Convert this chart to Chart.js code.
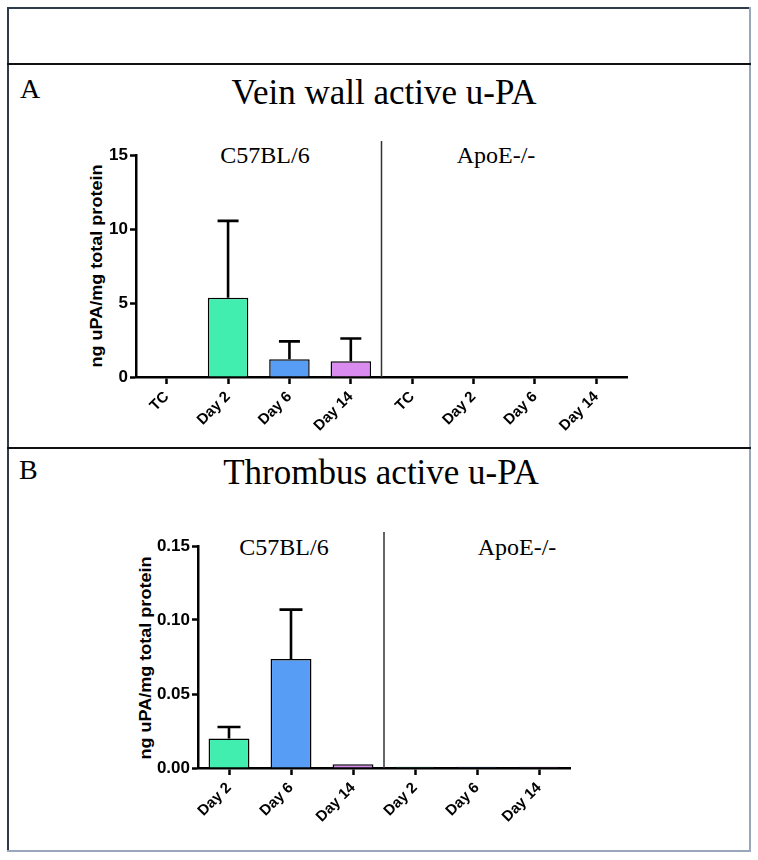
<!DOCTYPE html>
<html>
<head>
<meta charset="utf-8">
<script src="https://cdn.jsdelivr.net/npm/chart.js@4/dist/chart.umd.min.js"></script>
<style>
  html, body { margin:0; padding:0; background:#fff; }
  body { width:758px; height:860px; position:relative; overflow:hidden; }
  .abs { position:absolute; }
  .serif { font-family:"Liberation Serif","DejaVu Serif",serif; color:#000; white-space:nowrap; line-height:1; }
  .ytitle { font-family:"Liberation Sans",Arial,sans-serif; font-weight:bold; font-size:17px; color:#000; white-space:nowrap; line-height:1; }
  canvas { position:absolute; left:0; }
</style>
</head>
<body>
<!-- frame -->
<div class="abs" style="left:7px;top:7px;width:743px;height:2px;background:#2f3a4a;"></div>
<div class="abs" style="left:7px;top:7px;width:2px;height:845px;background:#2f3a4a;"></div>
<div class="abs" style="left:749px;top:7px;width:2px;height:845px;background:#9aa6ba;"></div>
<div class="abs" style="left:7px;top:850px;width:744px;height:2px;background:#9aa6ba;"></div>
<div class="abs" style="left:7px;top:63px;width:744px;height:2px;background:#111;"></div>
<div class="abs" style="left:7px;top:447px;width:744px;height:2px;background:#111;"></div>

<div class="abs serif" style="left:20px;top:89px;font-size:28px;transform:translate(0,-50%);">A</div>
<div class="abs serif" style="left:384px;top:92px;font-size:35px;transform:translate(-50%,-50%) scaleY(1.05);">Vein wall active u-PA</div>
<div class="abs serif" style="left:19px;top:470px;font-size:28px;transform:translate(0,-50%);">B</div>
<div class="abs serif" style="left:381px;top:472px;font-size:35px;transform:translate(-50%,-50%) scaleY(1.05);">Thrombus active u-PA</div>

<div class="abs serif" style="left:265px;top:155px;font-size:24px;transform:translate(-50%,-50%);">C57BL/6</div>
<div class="abs serif" style="left:496px;top:155px;font-size:24px;transform:translate(-50%,-50%);">ApoE-/-</div>
<div class="abs serif" style="left:284px;top:547px;font-size:24px;transform:translate(-50%,-50%);">C57BL/6</div>
<div class="abs serif" style="left:517px;top:547px;font-size:24px;transform:translate(-50%,-50%);">ApoE-/-</div>

<div class="abs ytitle" style="left:96px;top:266px;transform:translate(-50%,-50%) rotate(-90deg) scaleX(1.06);">ng uPA/mg total protein</div>
<div class="abs ytitle" style="left:145px;top:658px;transform:translate(-50%,-50%) rotate(-90deg) scaleX(1.06);">ng uPA/mg total protein</div>

<canvas id="cA" style="top:120px;" width="758" height="327"></canvas>
<canvas id="cB" style="top:510px;" width="758" height="328"></canvas>

<script>
// ---------- data ----------
const veinCategories = ['TC', 'Day 2', 'Day 6', 'Day 14', 'TC', 'Day 2', 'Day 6', 'Day 14'];
const veinMeans      = [0, 5.35, 1.2, 1.06, 0.02, 0.02, 0.02, 0.02];
const veinErrors     = [0, 5.2, 1.21, 1.54, 0, 0, 0, 0];
const veinTicks      = [0, 5, 10, 15];

const thrombusCategories = ['Day 2', 'Day 6', 'Day 14', 'Day 2', 'Day 6', 'Day 14'];
const thrombusMeans      = [0.0199, 0.0737, 0.0025, 0.0008, 0.0008, 0.0008];
const thrombusErrors     = [0.0078, 0.0333, 0, 0, 0, 0];
const thrombusTicks      = [0, 0.05, 0.10, 0.15];

const groupLabels = ['C57BL/6', 'ApoE-/-'];

// ---------- styles ----------
const GREEN = '#41EEB0', BLUE = '#579DF6', VIOLET = '#D98BF0';
const veinColors = ['#ffffff', GREEN, BLUE, VIOLET, '#ffffff', GREEN, BLUE, VIOLET];
const thrombusColors = [GREEN, BLUE, VIOLET, GREEN, BLUE, VIOLET];

Chart.defaults.color = '#000';
Chart.defaults.animation = false;

const errorBarPlugin = {
  id: 'errorBars',
  afterDatasetsDraw(chart, args, opts) {
    const ctx = chart.ctx;
    const meta = chart.getDatasetMeta(0);
    const ys = chart.scales.y;
    const means = chart.data.datasets[0].data;
    ctx.save();
    ctx.strokeStyle = '#000';
    ctx.lineWidth = 2.6;
    ctx.lineCap = 'butt';
    opts.errors.forEach((e, i) => {
      if (!e) return;
      const bar = meta.data[i];
      const x = bar.x;
      const y0 = ys.getPixelForValue(means[i]);
      const y1 = ys.getPixelForValue(means[i] + e);
      ctx.beginPath();
      ctx.moveTo(x, y0);
      ctx.lineTo(x, y1);
      ctx.moveTo(x - opts.cap / 2, y1);
      ctx.lineTo(x + opts.cap / 2, y1);
      ctx.stroke();
    });
    // group separator
    const xs = chart.scales.x;
    const sx = (xs.getPixelForTick(opts.split - 1) + xs.getPixelForTick(opts.split)) / 2;
    ctx.strokeStyle = '#333';
    ctx.lineWidth = 1.5;
    ctx.beginPath();
    ctx.moveTo(sx, chart.chartArea.top - opts.sepExtra);
    ctx.lineTo(sx, chart.chartArea.bottom);
    ctx.stroke();
    ctx.restore();
  }
};

function makeChart(id, labels, means, errors, colors, ticks, fmt, pad, split, cap) {
  return new Chart(document.getElementById(id), {
    type: 'bar',
    data: {
      labels: labels,
      datasets: [{
        data: means,
        backgroundColor: colors,
        borderColor: '#000',
        borderWidth: 1.5,
        borderSkipped: 'bottom',
        categoryPercentage: 1,
        barPercentage: 0.66
      }]
    },
    options: {
      responsive: false,
      maintainAspectRatio: false,
      layout: { padding: pad },
      plugins: {
        legend: { display: false },
        tooltip: { enabled: false },
        errorBars: { errors: errors, split: split, cap: cap, sepExtra: 14 }
      },
      scales: {
        x: {
          offset: true,
          grid: { display: true, drawOnChartArea: false, drawTicks: true, tickLength: 7, tickColor: '#000', tickWidth: 2.5, offset: false },
          border: { display: true, color: '#000', width: 2.5 },
          ticks: {
            autoSkip: false, maxRotation: 45, minRotation: 45, padding: 4,
            font: { family: 'Liberation Sans, Arial, sans-serif', weight: 'bold', size: 15 }
          },
          afterFit(s) { s.height = 70; }
        },
        y: {
          min: ticks[0], max: ticks[ticks.length - 1],
          afterBuildTicks(s) { s.ticks = ticks.map(v => ({ value: v })); },
          grid: { display: true, drawOnChartArea: false, drawTicks: true, tickLength: 6, tickColor: '#000', tickWidth: 2.5 },
          border: { display: true, color: '#000', width: 2.5 },
          ticks: {
            padding: 2,
            callback: fmt,
            font: { family: 'Liberation Sans, Arial, sans-serif', weight: 'bold', size: 17 }
          },
          afterFit(s) { s.width = 56; }
        }
      }
    },
    plugins: [errorBarPlugin]
  });
}

makeChart('cA', veinCategories, veinMeans, veinErrors, veinColors, veinTicks,
  v => String(v), { top: 35, left: 80, right: 131, bottom: 0 }, 4, 21);
makeChart('cB', thrombusCategories, thrombusMeans, thrombusErrors, thrombusColors, thrombusTicks,
  v => Number(v).toFixed(2), { top: 36, left: 142, right: 188, bottom: 0 }, 3, 23);
</script>
</body>
</html>
